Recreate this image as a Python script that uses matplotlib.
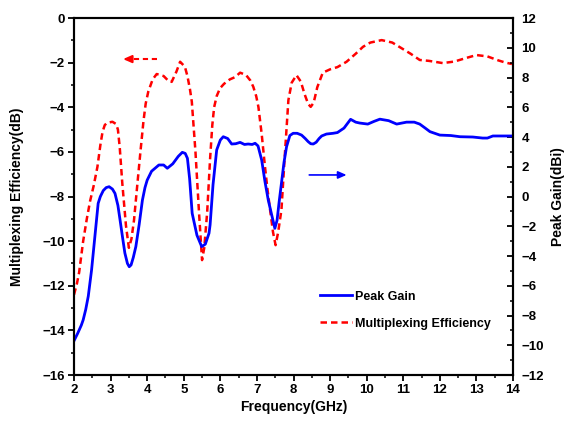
import matplotlib
matplotlib.use("Agg")
import matplotlib.pyplot as plt
from matplotlib.ticker import MultipleLocator

plt.rcParams['font.family'] = ['Liberation Sans', 'DejaVu Sans']
plt.rcParams['font.weight'] = 'bold'

# Multiplexing efficiency (dB), left axis
eff_freq = [2.0, 2.08, 2.14, 2.25, 2.35, 2.44, 2.54, 2.64, 2.72, 2.78, 2.84, 2.9, 3.05, 3.15,
            3.2, 3.25, 3.32, 3.42, 3.5, 3.57, 3.64, 3.74, 3.82, 3.9, 3.96, 4.03, 4.15, 4.26,
            4.45, 4.6, 4.67, 4.8, 4.9, 5.03, 5.1, 5.17, 5.22, 5.32, 5.42, 5.5, 5.56, 5.64,
            5.72, 5.78, 5.83, 5.9, 5.99, 6.1, 6.26, 6.4, 6.54, 6.7, 6.82, 6.9, 6.98, 7.04,
            7.13, 7.22, 7.29, 7.36, 7.44, 7.51, 7.58, 7.67, 7.76, 7.86, 7.95, 8.08, 8.2, 8.3,
            8.4, 8.47, 8.55, 8.65, 8.8, 9.0, 9.2, 9.45, 9.7, 9.9, 10.1, 10.41, 10.7, 10.9,
            11.2, 11.45, 11.7, 12.08, 12.4, 12.7, 13.0, 13.3, 13.6, 13.8, 13.97]
eff_db = [-12.4, -11.9, -11.4, -10.0, -9.0, -8.2, -7.5, -6.67, -5.7, -5.1, -4.8, -4.7, -4.65,
          -4.75, -5.0, -5.8, -7.41, -9.3, -10.3, -9.9, -9.06, -7.3, -5.92, -4.6, -3.83,
          -3.3, -2.75, -2.51, -2.6, -2.85, -2.86, -2.4, -1.96, -2.18, -2.6, -3.2, -3.75,
          -6.0, -8.8, -10.85, -10.3, -8.7, -6.3, -4.8, -4.0, -3.5, -3.15, -2.95, -2.75,
          -2.65, -2.45, -2.55, -2.8, -3.08, -3.5, -3.98, -5.2, -6.67, -7.7, -8.6, -9.6,
          -10.18, -9.6, -8.6, -6.2, -3.68, -2.9, -2.56, -2.85, -3.4, -3.85, -3.98, -3.8,
          -3.1, -2.45, -2.3, -2.2, -1.96, -1.6, -1.29, -1.1, -0.99, -1.1, -1.3, -1.6, -1.88,
          -1.92, -2.02, -1.95, -1.8, -1.66, -1.72, -1.9, -2.0, -2.06]

# Peak gain (dBi), right axis
gain_freq = [2.0, 2.1, 2.2, 2.25, 2.32, 2.39, 2.48, 2.57, 2.66, 2.72, 2.8, 2.88, 2.96, 3.05,
             3.12, 3.2, 3.26, 3.33, 3.39, 3.46, 3.51, 3.56, 3.62, 3.69, 3.78, 3.87, 3.94,
             4.0, 4.12, 4.32, 4.45, 4.55, 4.7, 4.85, 4.96, 5.04, 5.1, 5.16, 5.23, 5.36, 5.49,
             5.59, 5.69, 5.72, 5.8, 5.9, 6.0, 6.08, 6.2, 6.31, 6.42, 6.54, 6.66, 6.76, 6.87,
             6.95, 7.03, 7.13, 7.22, 7.31, 7.4, 7.49, 7.55, 7.61, 7.67, 7.74, 7.81, 7.9, 7.99,
             8.1, 8.22, 8.32, 8.4, 8.47, 8.54, 8.62, 8.7, 8.77, 8.9, 9.08, 9.2, 9.38, 9.56,
             9.7, 9.81, 10.03, 10.2, 10.36, 10.6, 10.82, 11.09, 11.3, 11.45, 11.6, 11.73, 12.0,
             12.3, 12.55, 12.9, 13.17, 13.3, 13.45, 13.7, 13.97]
gain_dbi = [-9.7, -9.2, -8.65, -8.3, -7.6, -6.7, -4.94, -2.7, -0.46, 0.0, 0.4, 0.6, 0.66,
            0.5, 0.21, -0.6, -1.6, -2.8, -3.8, -4.5, -4.72, -4.6, -4.1, -3.37, -1.9, -0.24,
            0.6, 1.1, 1.7, 2.12, 2.12, 1.9, 2.2, 2.7, 2.97, 2.9, 2.57, 1.2, -1.13, -2.6,
            -3.37, -3.2, -2.47, -1.9, 0.8, 3.13, 3.8, 4.02, 3.9, 3.53, 3.55, 3.64, 3.5, 3.53,
            3.5, 3.58, 3.4, 2.45, 1.0, -0.24, -1.2, -2.14, -1.6, -0.3, 0.89, 2.3, 3.35, 4.1,
            4.25, 4.25, 4.13, 3.9, 3.69, 3.55, 3.53, 3.65, 3.9, 4.07, 4.2, 4.25, 4.3, 4.6,
            5.19, 5.0, 4.94, 4.87, 5.05, 5.2, 5.1, 4.87, 5.0, 5.0, 4.87, 4.6, 4.36, 4.13,
            4.1, 4.02, 4.0, 3.93, 3.93, 4.07, 4.07, 4.07]

x_ticks = list(range(2, 15))
left_ticks = list(range(-16, 1, 2))
right_ticks = list(range(-12, 13, 2))

red_arrow = dict(tail=(4.27, -1.84), head=(3.34, -1.84))
blue_arrow = dict(tail=(8.43, 1.45), head=(9.45, 1.45))

fig = plt.figure(figsize=(5.68, 4.25), dpi=100)
ax = fig.add_axes([0.1303, 0.1176, 0.7729, 0.84])
ax2 = ax.twinx()

red_line, = ax.plot(eff_freq, eff_db, color='#FF0000', lw=1.8, ls=(0, (2.6, 1.6)),
                    label='Multiplexing Efficiency')
blue_line, = ax2.plot(gain_freq, gain_dbi, color='#0000FF', lw=2.0, label='Peak Gain')

ax.set_xlim(2, 14)
ax.set_ylim(-16, 0)
ax2.set_ylim(-12, 12)
ax.set_xticks(x_ticks)
ax.set_yticks(left_ticks)
ax2.set_yticks(right_ticks)
ax.xaxis.set_minor_locator(MultipleLocator(0.5))
ax.yaxis.set_minor_locator(MultipleLocator(1))
ax2.yaxis.set_minor_locator(MultipleLocator(1))

for a in (ax, ax2):
    for s in a.spines.values():
        s.set_linewidth(1.5)
ax.tick_params(axis='both', which='major', direction='out', length=4.5, width=1.3,
               labelsize=9.5, pad=2, top=False, right=False)
ax.tick_params(axis='both', which='minor', direction='out', length=2.5, width=1.1,
               top=False, right=False)
ax2.tick_params(axis='y', which='major', direction='in', length=4.5, width=1.3,
                labelsize=9.5, pad=6)
ax2.tick_params(axis='y', which='minor', direction='in', length=2.5, width=1.1)
for lab in ax.get_xticklabels() + ax.get_yticklabels() + ax2.get_yticklabels():
    lab.set_fontweight('bold')

ax.set_xlabel('Frequency(GHz)', fontsize=10, fontweight='bold', labelpad=3)
ax.set_ylabel('Multiplexing Efficiency(dB)', fontsize=10, fontweight='bold', labelpad=13)
ax2.set_ylabel('Peak Gain(dBi)', fontsize=10, fontweight='bold', labelpad=5)

# Arrows
ax.plot([red_arrow['tail'][0], red_arrow['head'][0] + 0.2],
        [red_arrow['tail'][1], red_arrow['head'][1]],
        color='#FF0000', lw=1.5, ls=(0, (2.5, 1.8)))
ax.annotate('', xy=red_arrow['head'], xytext=(red_arrow['head'][0] + 0.25, red_arrow['head'][1]),
            arrowprops=dict(arrowstyle='-|>,head_length=0.5,head_width=0.22',
                            color='#FF0000', lw=1.5, shrinkA=0, shrinkB=0))
ax2.annotate('', xy=blue_arrow['head'], xytext=blue_arrow['tail'],
             arrowprops=dict(arrowstyle='-|>,head_length=0.5,head_width=0.22',
                             color='#0000FF', lw=1.2, shrinkA=0, shrinkB=0))

leg = ax2.legend([blue_line, red_line], ['Peak Gain', 'Multiplexing Efficiency'],
                 loc='upper left', bbox_to_anchor=(0.55, 0.25), frameon=False,
                 fontsize=9, handlelength=2.5, handletextpad=0.3, labelspacing=1.2,
                 borderaxespad=0)
for t in leg.get_texts():
    t.set_fontweight('bold')

fig.savefig('out.png', dpi=100)
